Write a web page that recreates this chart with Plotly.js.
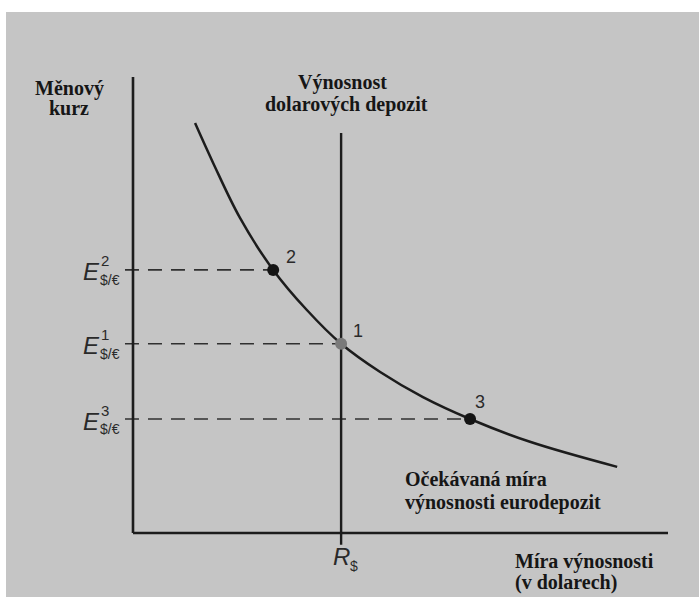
<!DOCTYPE html>
<html>
<head>
<meta charset="utf-8">
<script src="https://cdn.plot.ly/plotly-3.0.1.min.js"></script>
<style>html,body{margin:0;padding:0;background:#fff;}#chart{width:699px;height:597px;}</style>
</head>
<body>
<div id="chart"></div>
<script>
// ---- data ----
const curveX = [1.16, 1.50, 2.00, 2.62, 3.25, 3.89, 4.62, 5.42, 6.30, 7.42, 9.05];
const curveY = [8.99, 8.11, 6.91, 5.77, 4.89, 4.15, 3.53, 2.98, 2.50, 2.00, 1.45];
const pointNames = ['1', '2', '3'];
const pointX = [3.89, 2.62, 6.30];
const pointY = [4.15, 5.77, 2.50];
const pointColors = ['#7a7a7a', '#141414', '#141414'];
const rDollar = 3.89;
const rLineY = [-0.26, 8.77];
const yAxisTop = 10;
const xAxisEnd = 10;
const tickLeft = -0.15;

// ---- pixel helpers for text placement ----
const X0 = 133, XS = 53.5, Y0 = 533, YS = 45.6;
const dx = p => (p - X0) / XS;
const dy = p => (Y0 - p) / YS;

const ink = '#1c1c1c';
const traces = [];

// dashed guide lines
pointNames.forEach((n, i) => {
  traces.push({
    x: [tickLeft, pointX[i]], y: [pointY[i], pointY[i]],
    mode: 'lines', line: {color: '#303030', width: 1.7, dash: '14px,9px'},
    hoverinfo: 'skip'
  });
});
// axes
traces.push({x: [0, 0], y: [0, yAxisTop], mode: 'lines', line: {color: ink, width: 2.6}, hoverinfo: 'skip'});
traces.push({x: [0, xAxisEnd], y: [0, 0], mode: 'lines', line: {color: ink, width: 2.6}, hoverinfo: 'skip'});
// dollar deposit return line
traces.push({x: [rDollar, rDollar], y: rLineY, mode: 'lines', line: {color: ink, width: 2.4}, hoverinfo: 'skip'});
// euro deposit expected return curve
traces.push({x: curveX, y: curveY, mode: 'lines', line: {color: ink, width: 2.5, shape: 'spline', smoothing: 1}, hoverinfo: 'skip'});
// equilibrium points
traces.push({x: pointX, y: pointY, mode: 'markers', marker: {color: pointColors, size: 12}, hoverinfo: 'skip'});

const serif = {family: 'Liberation Serif, Times New Roman, serif', size: 20, color: '#161616', weight: 'bold'};
const sans = {family: 'Liberation Sans, Arial, sans-serif', color: '#2a2a2a'};
const ann = [];
function txt(text, xp, yp, xanchor, font) {
  ann.push({text: text, x: dx(xp), y: dy(yp), xref: 'x', yref: 'y', xanchor: xanchor, yanchor: 'middle', showarrow: false, font: font});
}
txt('<b>Měnový</b>', 69, 88, 'center', serif);
txt('<b>kurz</b>', 69, 108, 'center', serif);
txt('<b>Výnosnost</b>', 342, 82, 'center', serif);
txt('<b>dolarových depozit</b>', 346, 104, 'center', serif);
txt('<b>Očekávaná míra</b>', 403, 479, 'left', serif);
txt('<b>výnosnosti eurodepozit</b>', 403, 502, 'left', serif);
txt('<b>Míra výnosnosti</b>', 513, 561, 'left', serif);
txt('<b>(v dolarech)</b>', 513, 582, 'left', serif);

// E labels and point numbers
const shiftNum = [[17, 13], [18, 13], [10, 17]];
pointNames.forEach((n, i) => {
  ann.push({text: '<i>E</i>', x: 0, y: pointY[i], xref: 'x', yref: 'y', xanchor: 'right', yanchor: 'middle',
    xshift: -31, yshift: -2, showarrow: false, font: Object.assign({}, sans, {size: 24})});
  ann.push({text: '$/€', x: 0, y: pointY[i], xref: 'x', yref: 'y', xanchor: 'left', yanchor: 'middle',
    xshift: -35, yshift: -10, showarrow: false, font: Object.assign({}, sans, {size: 14})});
  ann.push({text: n, x: 0, y: pointY[i], xref: 'x', yref: 'y', xanchor: 'left', yanchor: 'middle',
    xshift: -34, yshift: 9, showarrow: false, font: Object.assign({}, sans, {size: 15})});
  ann.push({text: n, x: pointX[i], y: pointY[i], xref: 'x', yref: 'y', xanchor: 'center', yanchor: 'middle',
    xshift: shiftNum[i][0], yshift: shiftNum[i][1], showarrow: false, font: Object.assign({}, sans, {size: 18})});
});
// R$ label
ann.push({text: '<i>R</i>', x: rDollar, y: 0, xref: 'x', yref: 'y', xanchor: 'right', yanchor: 'middle',
  xshift: 11, yshift: -23, showarrow: false, font: Object.assign({}, sans, {size: 24})});
ann.push({text: '$', x: rDollar, y: 0, xref: 'x', yref: 'y', xanchor: 'left', yanchor: 'middle',
  xshift: 7, yshift: -33, showarrow: false, font: Object.assign({}, sans, {size: 14})});

const layout = {
  width: 699, height: 597,
  margin: {l: 6, r: 0, t: 12, b: 0, pad: 0},
  paper_bgcolor: '#ffffff',
  plot_bgcolor: '#c5c5c5',
  showlegend: false,
  xaxis: {range: [(6 - X0) / XS, (699 - X0) / XS], visible: false, fixedrange: true},
  yaxis: {range: [(Y0 - 597) / YS, (Y0 - 12) / YS], visible: false, fixedrange: true},
  annotations: ann
};
Plotly.newPlot('chart', traces, layout, {displayModeBar: false, staticPlot: true});
</script>
</body>
</html>
